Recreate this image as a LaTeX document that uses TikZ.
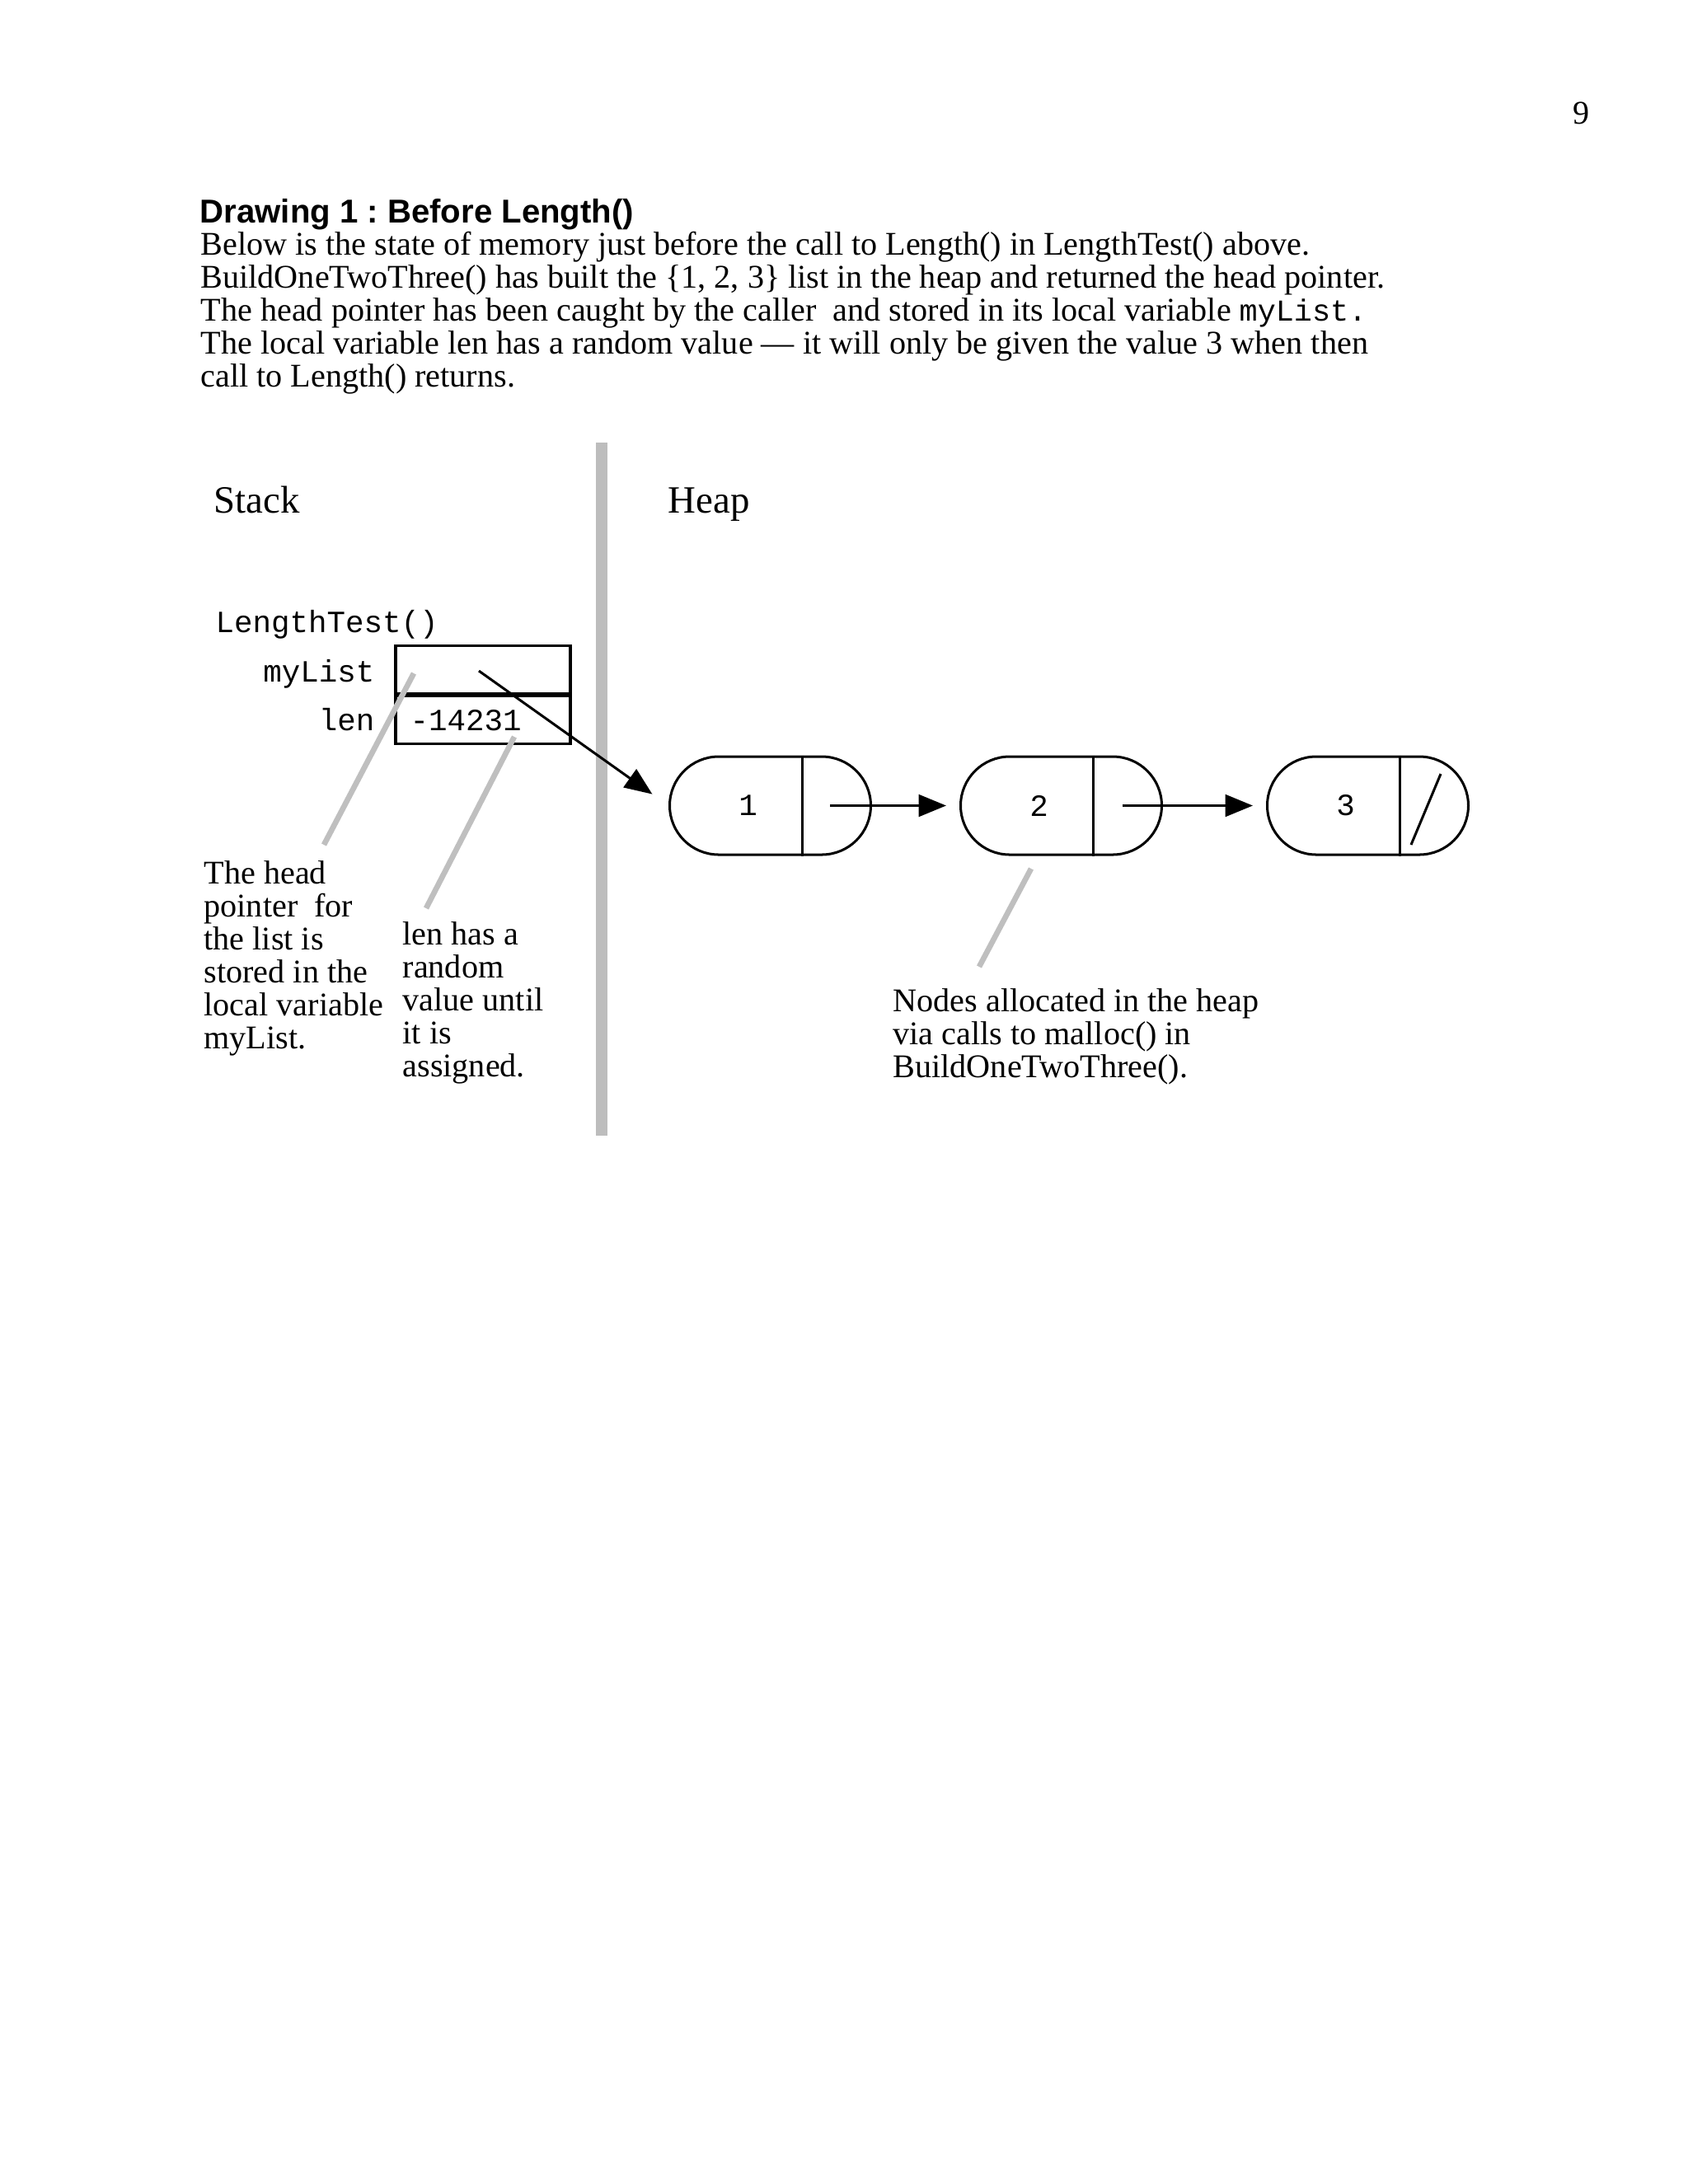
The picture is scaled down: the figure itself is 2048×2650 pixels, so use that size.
\documentclass[tikz,border=0pt]{standalone}
\usepackage{fontspec}
\setmainfont{Liberation Serif}
\setmonofont{Liberation Mono}
\newfontfamily\headfont{Liberation Sans}
\usetikzlibrary{arrows.meta,shapes.misc,positioning}
\frenchspacing

% one pixel of the page picture
\newdimen\pxu
\pxu=0.29883pt
\newcommand\vname[1]{{\fontsize{11}{11.9}\selectfont\ttfamily #1}}

\begin{document}
\begin{tikzpicture}[
    x=0.29883pt, y=-0.29883pt,
    bodytext/.style={anchor=base west, inner sep=0pt, align=left, font=\fontsize{12}{11.9}\selectfont},
    headtext/.style={anchor=base west, inner sep=0pt, font=\headfont\bfseries\fontsize{12}{14}\selectfont},
    areatext/.style={anchor=base west, inner sep=0pt, font=\fontsize{14}{16}\selectfont},
    codetext/.style={inner sep=0pt, font=\ttfamily\fontsize{11.2}{13}\selectfont},
    varcell/.style={draw, line width=0.9pt, minimum width=212\pxu, minimum height=58\pxu, inner sep=0pt},
    listnode/.style={rounded rectangle, draw, line width=0.9pt,
      minimum width=244\pxu, minimum height=119\pxu, inner sep=0pt},
    nextlink/.style={-{Triangle[length=10pt,width=8pt]}, line width=0.9pt},
    leadline/.style={line width=2pt, draw=black!25},
    stackwall/.style={line width=4pt, draw=black!26}
  ]
  \useasboundingbox (0,0) rectangle (2048,2650);

  % page number and heading (multi-line nodes sit on their last baseline)
  \node[bodytext] (pageno) at (1908,150) {9};
  \node[headtext] (title) at (242,270) {Drawing 1 : Before Length()};
  \node[bodytext] (intro) at (243,469) {Below is the state of memory just before the call to Length() in LengthTest() above.\\
    BuildOneTwoThree() has built the \{1, 2, 3\} list in the heap and returned the head pointer.\\
    The head pointer has been caught by the caller~ and stored in its local variable \vname{myList.}\\
    The local variable len has a random value — it will only be given the value 3 when then\\
    call to Length() returns.};

  % stack and heap halves
  \draw[stackwall] (730,537) -- (730,1378);
  \node[areatext] (stack) at (259,622) {Stack};
  \node[areatext] (heap) at (810,622) {Heap};

  % frame of LengthTest()
  \node[codetext, anchor=base west] (frame) at (261,767) {LengthTest()};
  \node[varcell] (mylist) at (586,812) {};
  \node[varcell, below=0pt of mylist] (len) {};
  \node[codetext, anchor=base east] (mylistname) at (455,827) {myList};
  \node[codetext, anchor=base east] (lenname) at (455,886) {len};
  \node[codetext, anchor=base west] (lenvalue) at (497,886) {-14231};

  % the three heap nodes: value part and next part
  \foreach \i/\x in {1/934.5, 2/1287.5, 3/1659.5} {
    \node[listnode] (cell\i) at (\x,977.5) {};
    \node[codetext] (val\i) at ([xshift=-27\pxu]cell\i.center) {\i};
    \draw[line width=0.9pt] ([xshift=38.5\pxu]cell\i.north) -- ([xshift=38.5\pxu]cell\i.south);
  }
  \draw[line width=0.9pt] ([shift={(88.5,-38.5)}]cell3.center) -- ([shift={(52.5,47.5)}]cell3.center);

  % pointers
  \coordinate (headptr) at (581,814);
  \draw[nextlink, shorten >=24\pxu] (headptr) -- (cell1.west);
  \draw[nextlink, shorten >=16\pxu] ([xshift=72.5\pxu]cell1.center) -- (cell2.west);
  \draw[nextlink, shorten >=16\pxu] ([xshift=74\pxu]cell2.center) -- (cell3.west);

  % notes
  \node[bodytext] (headnote) at (247,1272) {The head\\pointer~ for\\the list is\\stored in the\\local variable\\myList.};
  \node[bodytext] (lennote) at (488,1306) {len has a\\random\\value until\\it is\\assigned.};
  \node[bodytext] (heapnote) at (1083,1307) {Nodes allocated in the heap\\via calls to malloc() in\\BuildOneTwoThree().};
  \coordinate (headtip) at (502,817);
  \coordinate (headfoot) at (393,1025);
  \coordinate (lentip) at (624,894);
  \coordinate (lenfoot) at (517,1102);
  \coordinate (heaptip) at (1251,1054);
  \coordinate (heapfoot) at (1188,1173);
  \draw[leadline] (headtip) -- (headfoot);
  \draw[leadline] (lentip) -- (lenfoot);
  \draw[leadline] (heaptip) -- (heapfoot);
\end{tikzpicture}
\end{document}
